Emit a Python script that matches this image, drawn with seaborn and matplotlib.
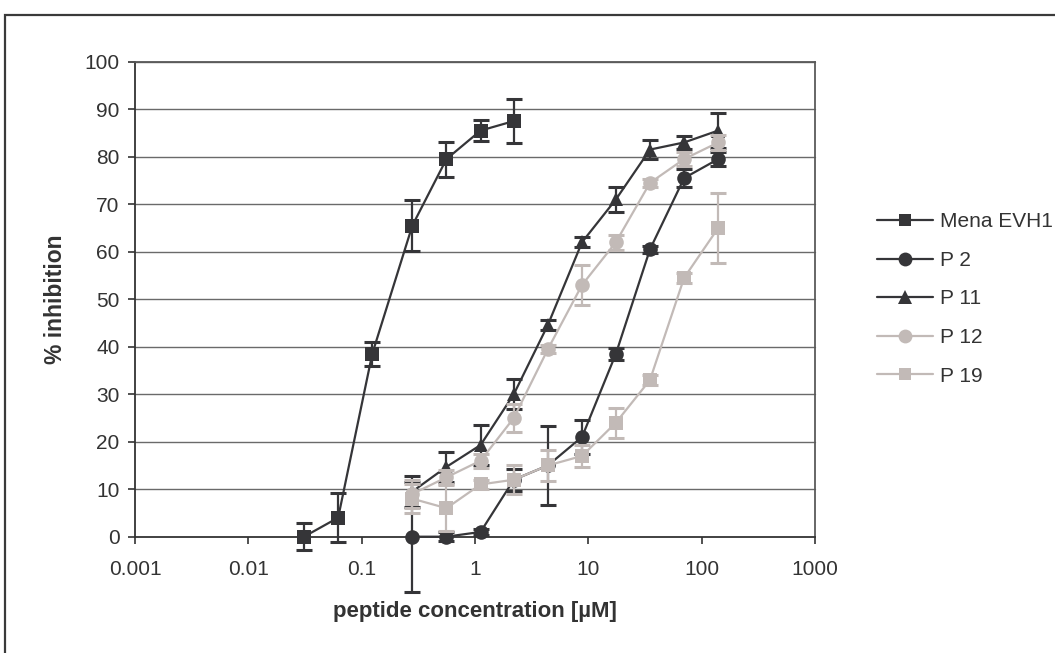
import numpy as np
import pandas as pd
import matplotlib
matplotlib.use("Agg")
import matplotlib.pyplot as plt
import seaborn as sns
from matplotlib.lines import Line2D
from matplotlib.patches import Rectangle

# ---- data ----
mena_x = [0.031, 0.062, 0.124, 0.28, 0.56, 1.12, 2.2]
mena_y = [0, 4, 38.5, 65.5, 79.5, 85.5, 87.5]
mena_e = [2.8, 5.2, 2.5, 5.3, 3.7, 2.2, 4.6]

p_x = [0.28, 0.56, 1.12, 2.2, 4.4, 8.8, 17.5, 35, 70, 140]
p2_y = [0, 0, 1, 12, 15, 21, 38.5, 60.5, 75.5, 79.5]
p2_e = [11.6, 1, 0.7, 2.3, 8.4, 3.6, 1.3, 0.8, 1.9, 1.5]
p11_y = [9.5, 14.7, 19.3, 30, 44.6, 62, 71, 81.5, 83, 85.5]
p11_e = [3.2, 3.2, 4.3, 3.2, 1, 1, 2.6, 2, 1.4, 3.6]
p12_y = [9, 12.5, 16, 25, 39.5, 53, 62, 74.5, 79.5, 83]
p12_e = [3, 1.5, 1.5, 3, 0.8, 4.2, 1.6, 0.8, 1.5, 1.5]
p19_y = [8, 6, 11, 12, 15, 17, 24, 33, 54.5, 65]
p19_e = [3, 4.8, 1, 3, 3.2, 2.3, 3.2, 1, 1, 7.4]

series_names = ["Mena EVH1", "P 2", "P 11", "P 12", "P 19"]
x_ticks = [0.001, 0.01, 0.1, 1, 10, 100, 1000]
x_tick_labels = ["0.001", "0.01", "0.1", "1", "10", "100", "1000"]
y_ticks = list(range(0, 101, 10))

DARK = "#353538"
GRAY = "#c2bab7"
styles = {
    "Mena EVH1": dict(color=DARK, marker="s", ms=9.5),
    "P 2": dict(color=DARK, marker="o", ms=10.5),
    "P 11": dict(color=DARK, marker="^", ms=10.5),
    "P 12": dict(color=GRAY, marker="o", ms=10.5),
    "P 19": dict(color=GRAY, marker="s", ms=9.5),
}

frames = []
for name, xs, ys, es in [
    ("Mena EVH1", mena_x, mena_y, mena_e),
    ("P 2", p_x, p2_y, p2_e),
    ("P 11", p_x, p11_y, p11_e),
    ("P 12", p_x, p12_y, p12_e),
    ("P 19", p_x, p19_y, p19_e),
]:
    frames.append(pd.DataFrame({"series": name, "conc": xs, "inh": ys, "err": es}))
df = pd.concat(frames, ignore_index=True)

sns.set_style("white")
plt.rcParams["font.family"] = ["Liberation Sans", "DejaVu Sans"]

FS = 15
fig = plt.figure(figsize=(10.55, 6.53), dpi=100)
ax = fig.add_axes([135 / 1055, 1 - 536.7 / 653, (815 - 135) / 1055, (536.7 - 61.7) / 653])

# outer chart border (extends past right/bottom of image)
fig.patches.append(Rectangle((5 / 1055, -0.2), 1.3, 0.2 + 1 - 15 / 653,
                             transform=fig.transFigure, fill=False,
                             lw=1.6, ec="#3a3a3a", zorder=0))

ax.set_xscale("log")
ax.set_xlim(0.001, 1000)
ax.set_ylim(0, 100)

for y in y_ticks[1:]:
    ax.axhline(y, color="#6a6a6a", lw=1.0, zorder=1)

z = 3
for name in series_names:
    sub = df[df["series"] == name]
    st = styles[name]
    ax.errorbar(sub["conc"], sub["inh"], yerr=sub["err"], fmt="none",
                ecolor=st["color"], elinewidth=1.6, capsize=6, capthick=2.2,
                zorder=z, clip_on=False)
    sns.lineplot(data=sub, x="conc", y="inh", ax=ax, color=st["color"],
                 marker=st["marker"], markersize=st["ms"], markeredgewidth=0,
                 linewidth=1.6, legend=False, zorder=z + 0.5, errorbar=None,
                 estimator=None, sort=False)
    z += 1
for l in ax.lines:
    l.set_clip_on(False)

ax.set_xticks(x_ticks)
ax.set_xticklabels(x_tick_labels)
ax.xaxis.set_minor_locator(matplotlib.ticker.NullLocator())
ax.set_yticks(y_ticks)
ax.tick_params(axis="both", which="major", labelsize=FS, colors="#333333",
               length=5, width=1.2, direction="out", left=True, bottom=True)
ax.tick_params(axis="x", pad=12)
ax.tick_params(axis="y", pad=6)
for s in ax.spines.values():
    s.set_color("#5a5a5a")
    s.set_linewidth(1.3)
ax.spines["left"].set_color("#333333")
ax.spines["bottom"].set_color("#333333")

ax.set_xlabel("peptide concentration [µM]", fontsize=16, fontweight="bold",
              color="#333333")
ax.set_ylabel("% inhibition", fontsize=16.5, fontweight="bold", color="#333333")
ax.xaxis.set_label_coords(0.5, (536.7 - 612) / 475)
ax.yaxis.set_label_coords((56 - 135) / 680, 0.5)
ax.xaxis.label.set_va("center")
ax.yaxis.label.set_va("center")

handles = [Line2D([0], [0], color=styles[n]["color"], marker=styles[n]["marker"],
                  markersize=styles[n]["ms"] * 0.95, markeredgewidth=0, lw=1.6)
           for n in series_names]
leg = fig.legend(handles, series_names, loc="upper left",
                 bbox_to_anchor=(869 / 1055, 1 - 204 / 653), frameon=False,
                 fontsize=FS, handlelength=2.65, handletextpad=0.35,
                 labelspacing=0.94, borderaxespad=0)
for t in leg.get_texts():
    t.set_color("#333333")

fig.savefig("out.png", dpi=100)
